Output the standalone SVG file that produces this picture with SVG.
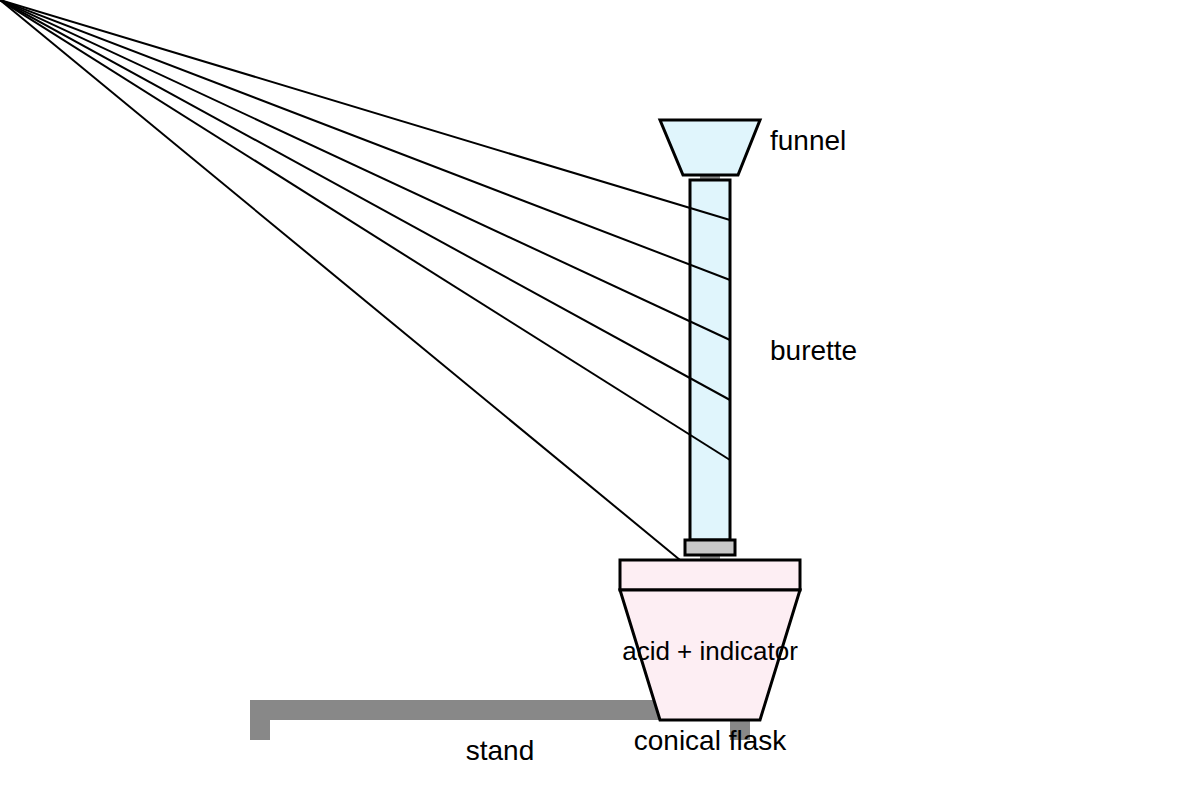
<svg xmlns="http://www.w3.org/2000/svg" width="1200" height="800" viewBox="0 0 1200 800">
<style>
.t{font-family:"Liberation Sans",Arial,sans-serif;font-size:28px;fill:#000}
.s{font-size:26px}
.o{stroke:#000;stroke-width:3}
.l{stroke:#000;stroke-width:2;fill:none}
.g{fill:#888}
</style>
<rect width="1200" height="800" fill="#fff"/>
<g id="stand">
<rect class="g" x="250" y="700" width="410" height="20"/>
<rect class="g" x="250" y="700" width="20" height="40"/>
<rect class="g" x="730" y="715" width="20" height="25"/>
<text class="t" x="500" y="760" text-anchor="middle">stand</text>
</g>
<g id="funnel">
<rect x="700" y="172" width="20" height="8" fill="#888"/>
<polygon class="o" points="660,120 760,120 738,175 683,175" fill="#e0f5fc"/>
<text class="t" x="770" y="150">funnel</text>
</g>
<g id="burette">
<rect class="o" x="690" y="180" width="40" height="360" fill="#e0f5fc"/>
<rect x="700" y="553" width="20" height="8" fill="#888"/>
<rect class="o" x="685" y="540" width="50" height="15" fill="#c8c8c8" stroke-width="2"/>
<text class="t" x="770" y="360">burette</text>
</g>
<g id="flask">
<rect class="o" x="620" y="560" width="180" height="30" fill="#fdeef3"/>
<polygon class="o" points="620,590 800,590 760,720 660,720" fill="#fdeef3"/>
<text class="t s" x="710" y="660" text-anchor="middle">acid + indicator</text>
<text class="t" x="710" y="750" text-anchor="middle">conical flask</text>
</g>
<g id="connectors">
<line class="l" x1="0" y1="0" x2="730" y2="220"/>
<line class="l" x1="0" y1="0" x2="730" y2="280"/>
<line class="l" x1="0" y1="0" x2="730" y2="340"/>
<line class="l" x1="0" y1="0" x2="730" y2="400"/>
<line class="l" x1="0" y1="0" x2="730" y2="460"/>
<line class="l" x1="0" y1="0" x2="680" y2="560" stroke-width="3"/>
</g>
</svg>
